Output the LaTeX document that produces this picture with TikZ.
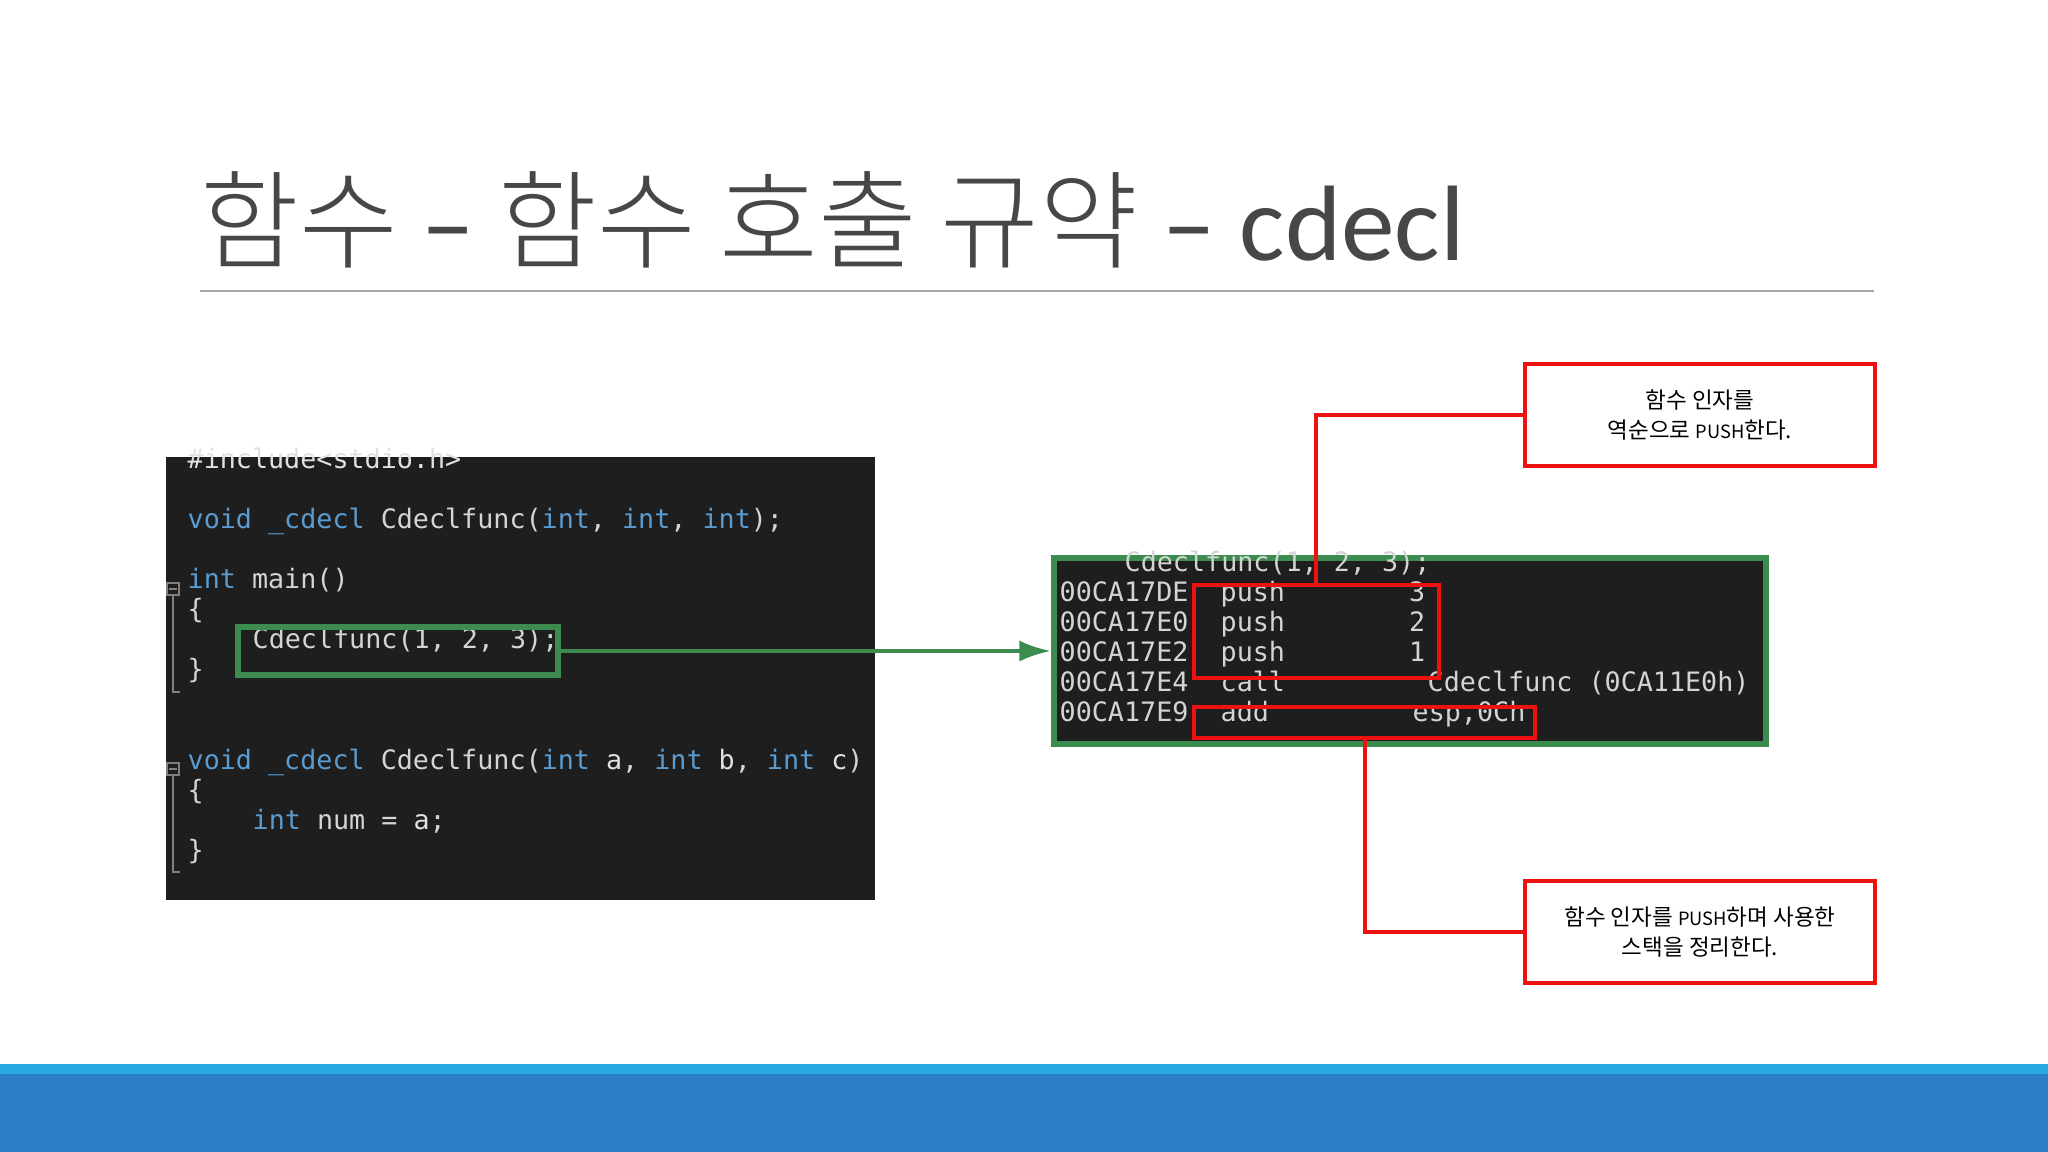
\documentclass[tikz,border=0pt]{standalone}
\usepackage{fontspec}
\setmonofont{DejaVu Sans Mono}
\newfontfamily\kr{Noto Sans CJK KR}
\newfontfamily\krl{Noto Sans CJK KR Light}
\newfontfamily\lat{Carlito}
\usetikzlibrary{arrows.meta}
\definecolor{codebg}{HTML}{1E1E1E}
\definecolor{kw}{HTML}{5A9BD0}
\definecolor{tx}{HTML}{D4D4D4}
\definecolor{gr}{HTML}{3C8C50}
\definecolor{rd}{HTML}{EE1111}
\definecolor{lb}{HTML}{29A9E0}
\definecolor{db}{HTML}{2A7FC4}
\tikzset{
  code/.style={anchor=base west,inner sep=0pt,font=\ttfamily\fontsize{7.6}{8}\selectfont,text=tx},
  callout/.style={draw=rd,line width=1.2pt,minimum width=3.5cm,minimum height=1.02cm,align=center,font=\kr\fontsize{6.4}{8.4}\selectfont,inner sep=0pt},
  redbox/.style={draw=rd,line width=1.2pt},
  link/.style={draw=rd,line width=1.2pt}
}
\newcommand{\K}[1]{\textcolor{kw}{#1}}
\newcommand{\sm}[1]{{\fontsize{5.2}{6}\selectfont #1}}
\begin{document}
\begin{tikzpicture}[x=0.01cm,y=-0.01cm]
\useasboundingbox (0,0) rectangle (2048,1152);
\fill[white] (0,0) rectangle (2048,1152);
% title
\node[anchor=base west,inner sep=0pt,text=black!72,font=\krl\fontsize{30.5}{33}\selectfont] (title) at (200,261) {함수 {\lat –} 함수 호출 규약 {\lat – cdecl}};
\draw[black!35,line width=0.6pt] (200,291) -- (1874,291);
% code panel
\fill[codebg] (166,457) rectangle (875,900);
\node[code] (l1) at (187,469) {\textcolor{tx!70}{\#include<stdio.h>}};
\node[code] (l2) at (187,529) {\K{void} \K{\_cdecl} Cdeclfunc(\K{int}, \K{int}, \K{int});};
\node[code] (l3) at (187,589) {\K{int} main()};
\node[code] (l4) at (187,619) {\{};
\node[code] (l5) at (252,649) {Cdeclfunc(1, 2, 3);};
\node[code] (l6) at (187,679) {\}};
\node[code] (l7) at (187,769) {\K{void} \K{\_cdecl} Cdeclfunc(\K{int} \textcolor{tx!70}{a}, \K{int} \textcolor{tx!70}{b}, \K{int} \textcolor{tx!70}{c})};
\node[code] (l8) at (187,799) {\{};
\node[code] (l9) at (252,829) {\K{int} num = \textcolor{tx!70}{a};};
\node[code] (l10) at (187,859) {\}};
\foreach \y/\e in {589/692,769/872}{
  \draw[gray,line width=0.5pt] (167,\y-6) rectangle (179,\y+6);
  \draw[gray,line width=0.5pt] (169,\y) -- (177,\y);
  \draw[gray,line width=0.5pt] (173,\y+6) -- (173,\e) -- (180,\e);
}
\node[draw=gr,line width=1.6pt,minimum width=3.2cm,minimum height=0.48cm,inner sep=0pt] (call) at (398,651) {};
% asm panel
\node[fill=codebg,draw=gr,line width=1.6pt,minimum width=7.12cm,minimum height=1.86cm,inner sep=0pt] (asm) at (1410,651) {};
\draw[-{Latex[length=9pt,width=6pt]},gr,line width=1.2pt] (call.east) -- (asm.west);
\node[code] (a0) at (1124,571) {Cdeclfunc(1, 2, 3);};
\node[code] (a1) at (1059,601) {00CA17DE};
\node[code] (a2) at (1059,631) {00CA17E0};
\node[code] (a3) at (1059,661) {00CA17E2};
\node[code] (a4) at (1059,691) {00CA17E4};
\node[code] (a5) at (1059,721) {00CA17E9};
\node[code] (p1) at (1220,601) {push};
\node[code] (p2) at (1220,631) {push};
\node[code] (p3) at (1220,661) {push};
\node[code] (p4) at (1220,691) {call};
\node[code] (p5) at (1220,721) {add};
\node[code,anchor=base east] (o1) at (1426,601) {3};
\node[code,anchor=base east] (o2) at (1426,631) {2};
\node[code,anchor=base east] (o3) at (1426,661) {1};
\node[code] (o4) at (1427,691) {Cdeclfunc (0CA11E0h)};
\node[code] (o5) at (1412,721) {esp,0Ch};
\draw[redbox] (1194,585) rectangle (1439,678);
\draw[redbox] (1194,707) rectangle (1535,738);
\coordinate (r1) at (1316,585);
\coordinate (r2) at (1365,738);
% callouts
\node[callout] (c1) at (1700,415) {함수 인자를\\역순으로 \sm{PUSH}한다.};
\node[callout] (c2) at (1700,932) {함수 인자를 \sm{PUSH}하며 사용한\\스택을 정리한다.};
\draw[link] (r1) |- (c1.west);
\draw[link] (r2) |- (c2.west);
% bottom band
\fill[lb] (0,1064) rectangle (2048,1074);
\fill[db] (0,1074) rectangle (2048,1152);
\end{tikzpicture}
\end{document}
